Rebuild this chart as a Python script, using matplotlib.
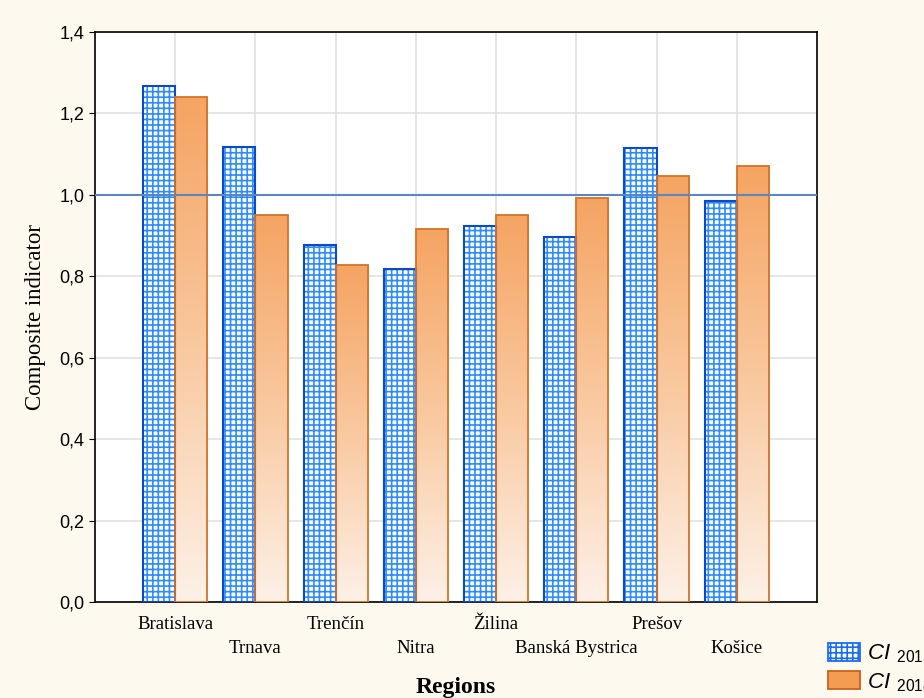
import numpy as np
import matplotlib
matplotlib.use('Agg')
import matplotlib.pyplot as plt
from matplotlib.colors import LinearSegmentedColormap

plt.rcParams['mathtext.fontset'] = 'custom'
plt.rcParams['mathtext.it'] = 'Liberation Sans:italic'
plt.rcParams['mathtext.rm'] = 'Liberation Sans'
plt.rcParams['hatch.linewidth'] = 1.2

# Data
regions = ['Bratislava', 'Trnava', 'Trenčín', 'Nitra', 'Žilina',
           'Banská Bystrica', 'Prešov', 'Košice']
ci_2015 = [1.268, 1.118, 0.877, 0.818, 0.924, 0.897, 1.115, 0.985]
ci_2018 = [1.241, 0.951, 0.828, 0.916, 0.951, 0.993, 1.047, 1.071]
y_ticks = [0.0, 0.2, 0.4, 0.6, 0.8, 1.0, 1.2, 1.4]

fig = plt.figure(figsize=(9.24, 6.98), dpi=100)
fig.patch.set_facecolor('#fef9ee')
ax = fig.add_axes([95 / 924, 1 - 602 / 698, 722 / 924, 570 / 698])
ax.set_facecolor('white')

x = np.arange(1, len(regions) + 1)
w = 0.4

# CI 2015: white bars with blue grid hatch (hatch takes the edge colour)
ax.bar(x - w / 2, ci_2015, width=w, facecolor='white', edgecolor='#2f8cff',
       hatch='+++', linewidth=0, zorder=3)
# darker outline on top
ax.bar(x - w / 2, ci_2015, width=w, facecolor='none', edgecolor='#0a48cc',
       linewidth=1.5, zorder=4)

# CI 2018: orange bars with vertical gradient
cmap = LinearSegmentedColormap.from_list('org', ['#fdf1e7', '#f9c9a0', '#f5a462'])
grad = np.linspace(0, 1, 256).reshape(-1, 1)
bars18 = ax.bar(x + w / 2, ci_2018, width=w, facecolor='none', edgecolor='#d0742c',
                linewidth=1.3, zorder=4)
for b in bars18:
    im = ax.imshow(grad, cmap=cmap, origin='lower', aspect='auto', zorder=3,
                   extent=[b.get_x(), b.get_x() + b.get_width(), 0, b.get_height()])
    im.set_clip_path(b)

# legend proxies
leg_orange = plt.Rectangle((0, 0), 1, 1, facecolor='#f49d52', edgecolor='#c8641e',
                           linewidth=1.3)
leg_blue = plt.Rectangle((0, 0), 1, 1, facecolor='white', edgecolor='#1a6cf0',
                         hatch='+++', linewidth=1.3)

ax.axhline(1.0, color='#5b86c0', linewidth=1.5, zorder=5)

ax.set_xlim(0, 9)
ax.set_ylim(0, 1.4)
ax.set_yticks(y_ticks)
ax.set_yticklabels([f'{v:.1f}'.replace('.', ',') for v in y_ticks],
                   fontfamily='Liberation Sans', fontsize=13)
ax.set_xticks(x)
ax.set_xticklabels(regions, fontfamily='Liberation Serif', fontsize=13.5)
for i, t in enumerate(ax.xaxis.get_major_ticks()):
    t.set_pad(10 if i % 2 == 0 else 27.5)
ax.tick_params(axis='x', length=3, direction='in')
ax.tick_params(axis='y', length=4, direction='out')

ax.grid(True, color='#e0e0e0', linewidth=1.2, zorder=0)
ax.set_axisbelow(True)
for s in ax.spines.values():
    s.set_linewidth(1.2)
    s.set_color('black')

ax.set_ylabel('Composite indicator', fontfamily='Liberation Serif', fontsize=16.5,
              labelpad=10)
ax.set_xlabel('Regions', fontfamily='Liberation Serif', fontsize=17,
              fontweight='bold', labelpad=14)

fig.legend([leg_blue, leg_orange],
           [r'$\mathit{CI}$ $_{\mathit{2015}}$', r'$\mathit{CI}$ $_{\mathit{2018}}$'],
           loc='upper left', bbox_to_anchor=(819 / 924, 1 - 634 / 698),
           frameon=False, fontsize=16, handlelength=1.45, handleheight=0.85,
           handletextpad=0.3, labelspacing=0.25, borderaxespad=0)

fig.savefig('out.png', dpi=100, facecolor=fig.get_facecolor())
